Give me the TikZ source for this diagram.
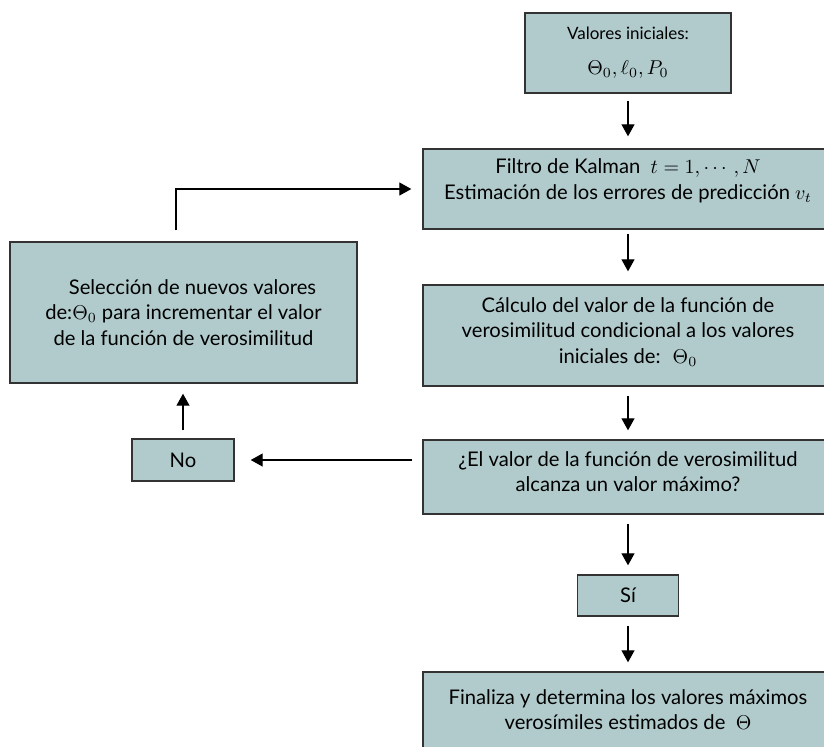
\documentclass[tikz,border=0pt]{standalone}
\usepackage{amsmath}
\usepackage{fontspec}
\setmainfont{Lato}
\usetikzlibrary{arrows.meta,positioning}
\definecolor{cajaazul}{RGB}{177,203,205}

\begin{document}
\begin{tikzpicture}[x=0.5pt,y=-0.5pt,
    caja/.style={draw=black!80,line width=0.7pt,fill=cajaazul,align=center,inner sep=0pt,
      font=\fontsize{10.1}{12.6}\selectfont},
    ancha/.style={caja,minimum width=205pt},
    flecha/.style={-{Triangle[length=6pt,width=6.5pt]},line width=0.6pt,shorten <=4.5pt,shorten >=4.5pt}]
        \useasboundingbox (0,0) rectangle (824,746);
        \clip (0,0) rectangle (824,746);

        \node[caja,minimum width=103pt,minimum height=40pt] (ini) at (628,53)
            {{\fontsize{8.5}{10}\selectfont Valores iniciales:}\\[5pt]$\Theta_0{,}\,\ell_0{,}\,P_0$};
        \node[ancha,minimum height=40pt] (kal) at (628,189)
            {Filtro de Kalman \ $t=1,\cdots,N$\\Estimación de los errores de predicción $v_t$\\[-2.6pt]\mbox{}};
        \node[ancha,minimum height=50.5pt] (cal) at (628,335.5)
            {Cálculo del valor de la función de\\verosimilitud condicional a los valores\\iniciales de: \ $\Theta_0$\\[-7.5pt]\mbox{}};
        \node[caja,minimum width=173.5pt,minimum height=70.5pt] (sel) at (183.5,312.5)
            {\hspace*{9pt}Selección de nuevos valores\\de:$\Theta_0$ para incrementar el valor\\de la función de verosimilitud};
        \node[ancha,minimum height=37pt] (pre) at (628,477)
            {¿El valor de la función de verosimilitud\\alcanza un valor máximo?\\[-7.5pt]\mbox{}};
        \node[caja,minimum width=51pt,minimum height=21pt] (no) at (183,460) {No};
        \node[caja,minimum width=50.5pt,minimum height=20.5pt] (si) at (628,595.5) {Sí};
        \node[ancha,minimum height=38pt] (fin) at (628,710)
            {Finaliza y determina los valores máximos\\verosímiles estimados de \ $\Theta$};

        \draw[flecha,shorten <=3.5pt,shorten >=6pt] (ini) -- (kal);
        \draw[flecha,shorten <=2pt,shorten >=6.5pt] (kal) -- (cal);
        \draw[flecha] (cal) -- (pre);
        \draw[flecha] (pre) -- (si);
        \draw[flecha] (si) -- (fin);
        \draw[flecha,shorten <=5pt,shorten >=8pt] (pre.west |- no.east) -- (no.east);
        \draw[flecha,shorten <=4pt,shorten >=5pt] (no) -- (no |- sel.south);
        \draw[flecha,shorten <=5.5pt,shorten >=5.5pt] ([xshift=-3.75pt]sel.north) |- (kal.west);
      \end{tikzpicture}
\end{document}
